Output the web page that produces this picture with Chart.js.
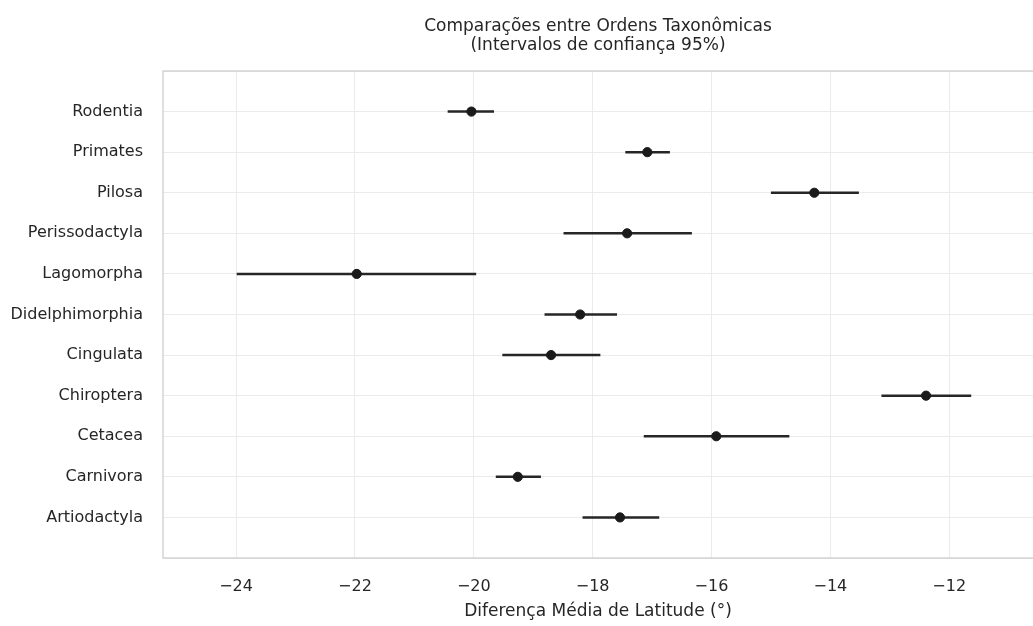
<!DOCTYPE html>
<html>
<head>
<meta charset="utf-8">
<script src="https://cdn.jsdelivr.net/npm/chart.js@4/dist/chart.umd.min.js"></script>
<style>
  html, body { margin: 0; padding: 0; background: #fff; overflow: hidden; }
  #wrap { width: 1033px; height: 626px; }
</style>
</head>
<body>
<div id="wrap"><canvas id="ordens"></canvas></div>
<script>
// categories, top to bottom
const ordens = ['Rodentia', 'Primates', 'Pilosa', 'Perissodactyla', 'Lagomorpha', 'Didelphimorphia',
  'Cingulata', 'Chiroptera', 'Cetacea', 'Carnivora', 'Artiodactyla'];
const medias = [-20.04, -17.08, -14.27, -17.42, -21.97, -18.21, -18.70, -12.39, -15.92, -19.26, -17.54];
const icInf = [-20.44, -17.45, -15.00, -18.49, -23.99, -18.81, -19.52, -13.14, -17.14, -19.63, -18.17];
const icSup = [-19.66, -16.70, -13.52, -16.33, -19.96, -17.59, -17.87, -11.63, -14.69, -18.87, -16.88];
const xTicks = [-24, -22, -20, -18, -16, -14, -12];
const titulo = ['Comparações entre Ordens Taxonômicas', '(Intervalos de confiança 95%)'];

const ctx = document.getElementById('ordens').getContext('2d');

// one line dataset with gaps between the rows
const barras = [];
ordens.forEach((o, i) => {
    barras.push({ x: icInf[i], y: i });
    barras.push({ x: icSup[i], y: i });
    barras.push({ x: icSup[i], y: null });
});
const pontos = medias.map((m, i) => ({ x: m, y: i }));

const txt = '#262626';
const fonte = "'DejaVu Sans', sans-serif";

// frame around the plot + title centred over the axes (like matplotlib)
const moldura = {
    id: 'moldura',
    afterDraw(chart) {
        const a = chart.chartArea;
        const c = chart.ctx;
        c.save();
        c.strokeStyle = '#cccccc';
        c.lineWidth = 1.25;
        // right spine sits just past the canvas edge
        c.strokeRect(a.left, a.top, a.right - a.left + 3, a.bottom - a.top);
        c.fillStyle = txt;
        c.font = '17px ' + fonte;
        c.textAlign = 'center';
        c.textBaseline = 'alphabetic';
        const cx = (a.left + a.right) / 2;
        c.fillText(titulo[0], cx, 31);
        c.fillText(titulo[1], cx, 50);
        c.restore();
    }
};

const semPadding = s => {
    s.paddingLeft = 0; s.paddingRight = 0; s.paddingTop = 0; s.paddingBottom = 0;
};

new Chart(ctx, {
    type: 'scatter',
    data: {
        datasets: [{
            label: 'IC 95%',
            data: barras,
            showLine: true,
            spanGaps: false,
            borderColor: '#262626',
            borderWidth: 2.5,
            pointRadius: 0,
            order: 2
        }, {
            label: 'Média',
            data: pontos,
            backgroundColor: '#1a1a1a',
            borderColor: '#1a1a1a',
            pointRadius: 4.6,
            order: 1
        }]
    },
    options: {
        responsive: true,
        maintainAspectRatio: false,
        animation: false,
        layout: { autoPadding: false, padding: { top: 71, left: 0, right: 0, bottom: 0 } },
        plugins: {
            legend: { display: false },
            tooltip: { enabled: false },
            title: { display: false }
        },
        scales: {
            x: {
                type: 'linear',
                min: -25.23,
                max: -10.59,
                afterFit: s => { s.height = 68; semPadding(s); },
                afterBuildTicks: s => { s.ticks = xTicks.map(v => ({ value: v })); },
                ticks: {
                    color: txt,
                    font: { family: fonte, size: 16 },
                    padding: 19,
                    callback: v => String(v).replace('-', '\u2212')
                },
                grid: { color: '#ebebeb', lineWidth: 1, drawTicks: false },
                border: { display: false },
                title: {
                    display: true,
                    text: 'Diferença Média de Latitude (°)',
                    color: txt,
                    font: { family: fonte, size: 17 },
                    padding: { top: 4, bottom: 4 }
                }
            },
            y: {
                type: 'linear',
                reverse: true,
                min: -1,
                max: 11,
                afterFit: s => { s.width = 163; semPadding(s); },
                ticks: {
                    stepSize: 1,
                    autoSkip: false,
                    color: txt,
                    font: { family: fonte, size: 16 },
                    padding: 20,
                    callback: v => ordens[v] || ''
                },
                grid: { color: '#ebebeb', lineWidth: 1, drawTicks: false },
                border: { display: false }
            }
        }
    },
    plugins: [moldura]
});
</script>
</body>
</html>
